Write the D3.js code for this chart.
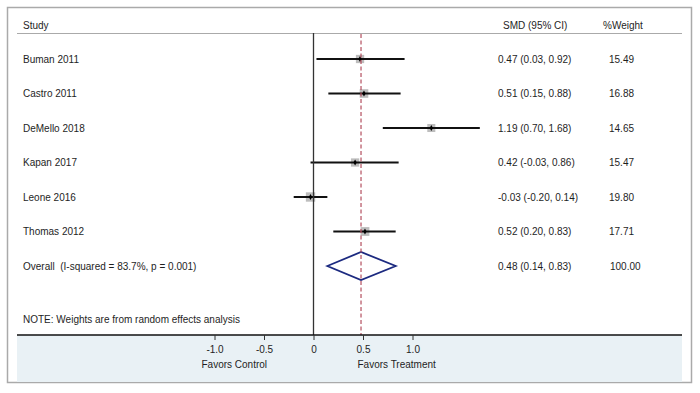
<!DOCTYPE html>
<html><head><meta charset="utf-8">
<script src="https://cdn.jsdelivr.net/npm/d3@7"></script>
<style>body{margin:0;background:#fff}svg{display:block;font-family:"Liberation Sans",Arial,sans-serif}</style>
</head><body><svg id="c" width="700" height="393"></svg>
<script>
const studies = ["Buman 2011","Castro 2011","DeMello 2018","Kapan 2017","Leone 2016","Thomas 2012"];
const smd = [0.47,0.51,1.19,0.42,-0.03,0.52];
const ciLow = [0.03,0.15,0.70,-0.03,-0.20,0.20];
const ciHigh = [0.92,0.88,1.68,0.86,0.14,0.83];
const weights = [15.49,16.88,14.65,15.47,19.80,17.71];
const overallLabel = "Overall  (I-squared = 83.7%, p = 0.001)";
const overall = [0.48,0.14,0.83];
const overallWeight = 100.00;
const ticks = [-1.0,-0.5,0,0.5,1.0];
const tickLabels = ["-1.0","-0.5","0","0.5","1.0"];
const note = "NOTE: Weights are from random effects analysis";

const svg = d3.select("#c");
const fmt = d3.formatLocale({decimal:".",thousands:",",grouping:[3],currency:["",""],minus:"-"}).format(".2f");
const x = d3.scaleLinear().domain([-1,1]).range([214.5,412.5]);
const y = d3.scaleLinear().domain([0,6]).range([59,266]);
const txt = "#1e1e1e";
const fs = 10;

// frame
svg.append("rect").attr("x",7.5).attr("y",7.5).attr("width",684).attr("height",375)
  .attr("fill","#fff").attr("stroke","#aaa").attr("stroke-width",1.5);
// bottom band
svg.append("rect").attr("x",17).attr("y",335).attr("width",665).attr("height",47).attr("fill","#e9f1f5");

// header
const g = svg.append("g");
function t(xp,yp,s,anchor){ return g.append("text").attr("x",xp).attr("y",yp).attr("font-size",fs).attr("fill",txt)
  .attr("text-anchor",anchor||"start").style("white-space","pre").text(s); }
t(23,29,"Study");
t(503,29,"SMD (95% CI)");
t(603,29,"%Weight");
svg.append("line").attr("x1",17).attr("x2",682).attr("y1",33.5).attr("y2",33.5).attr("stroke","#aaa").attr("stroke-width",1);

// zero line
svg.append("line").attr("x1",x(0)).attr("x2",x(0)).attr("y1",33).attr("y2",335).attr("stroke","#333").attr("stroke-width",1.3);
// overall dashed line
svg.append("line").attr("x1",x(overall[0])).attr("x2",x(overall[0])).attr("y1",34).attr("y2",335)
  .attr("stroke","#b4505f").attr("stroke-width",1.2).attr("stroke-dasharray","4,2.5");

// studies
studies.forEach((s,i)=>{
  const yy = y(i);
  t(23,yy+3.5,s);
  t(498,yy+3.5,`${fmt(smd[i])} (${fmt(ciLow[i])}, ${fmt(ciHigh[i])})`);
  t(609,yy+3.5,fmt(weights[i]));
  const side = 2.1*Math.sqrt(weights[i]);
  g.append("rect").attr("x",x(smd[i])-side/2).attr("y",yy-side/2).attr("width",side).attr("height",side).attr("fill","#bdbdbd");
  g.append("line").attr("x1",x(ciLow[i])).attr("x2",x(ciHigh[i])).attr("y1",yy).attr("y2",yy).attr("stroke","#111").attr("stroke-width",1.8);
  g.append("path").attr("d",d3.symbol(d3.symbolDiamond,10)()).attr("transform",`translate(${x(smd[i])},${yy})`).attr("fill","#000");
});

// overall
const yo = y(6);
t(23,yo+3.5,overallLabel);
t(498,yo+3.5,`${fmt(overall[0])} (${fmt(overall[1])}, ${fmt(overall[2])})`);
t(610,yo+3.5,fmt(overallWeight));
g.append("path").attr("d",`M${x(overall[1])},${yo} L${x(overall[0])},${yo-14} L${x(overall[2])},${yo} L${x(overall[0])},${yo+14} Z`)
  .attr("fill","none").attr("stroke","#1c2a80").attr("stroke-width",1.8);

t(23,322.5,note);

// axis
svg.append("line").attr("x1",17).attr("x2",682).attr("y1",335).attr("y2",335).attr("stroke","#111").attr("stroke-width",1.5);
const axis = d3.axisBottom(x).tickValues(ticks).tickFormat((d,i)=>tickLabels[i]).tickSize(5).tickPadding(6);
const ax = svg.append("g").attr("transform","translate(0,335)").call(axis);
ax.select(".domain").remove();
ax.selectAll(".tick line").attr("stroke","#333").attr("stroke-width",1);
ax.selectAll(".tick text").attr("font-size",fs).attr("fill",txt).attr("font-family","Liberation Sans, Arial, sans-serif");
t(x(-0.8),368,"Favors Control","middle");
t(x(0.84),368,"Favors Treatment","middle");
</script></body></html>
